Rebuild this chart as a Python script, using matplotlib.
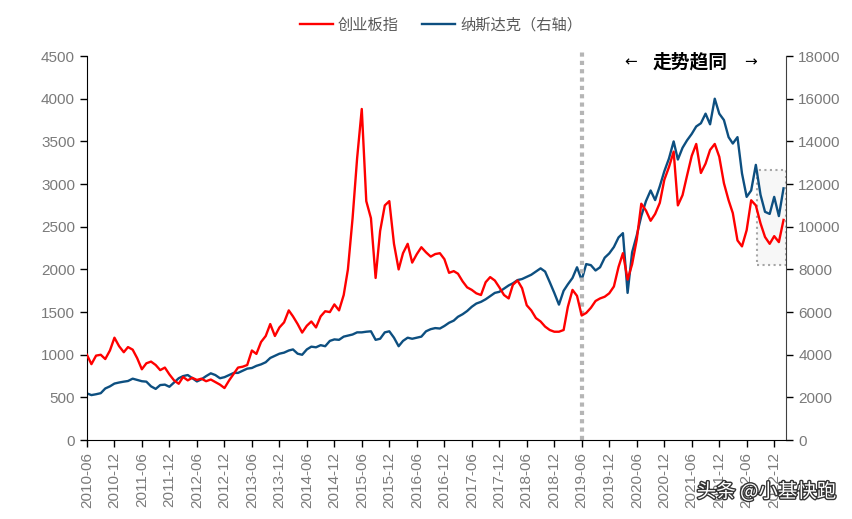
import numpy as np
import pandas as pd
import matplotlib
matplotlib.use("Agg")
import matplotlib.pyplot as plt
import matplotlib.dates as mdates
import matplotlib.patheffects as pe
from matplotlib.patches import Rectangle

plt.rcParams['font.family'] = ['Liberation Sans', 'Noto Sans CJK SC', 'DejaVu Sans']

# monthly readings, 2010-06 .. 2023-02
start_month = "2010-06-01"

chinext = [
    1000, 890, 990, 1000, 950, 1050, 1200,                       # 2010
    1100, 1030, 1090, 1060, 960, 830, 900, 920, 880, 820, 850, 770,  # 2011
    700, 660, 740, 700, 730, 705, 720, 690, 710, 680, 650, 610,   # 2012
    700, 780, 850, 860, 880, 1050, 1010, 1150, 1220, 1360, 1220, 1320,  # 2013
    1380, 1520, 1450, 1360, 1260, 1340, 1390, 1320, 1450, 1510, 1500, 1590,  # 2014
    1520, 1700, 2000, 2600, 3300, 3880, 2800, 2600, 1900, 2450, 2750, 2800,  # 2015
    2300, 2000, 2190, 2300, 2080, 2180, 2260, 2200, 2150, 2180, 2190, 2120,  # 2016
    1960, 1980, 1950, 1860, 1790, 1760, 1720, 1700, 1850, 1910, 1870, 1790,  # 2017
    1700, 1660, 1820, 1870, 1780, 1580, 1520, 1430, 1390, 1330, 1290, 1270,  # 2018
    1270, 1290, 1560, 1760, 1690, 1460, 1490, 1550, 1630, 1660, 1680, 1720,  # 2019
    1800, 2030, 2190, 1880, 2060, 2350, 2770, 2690, 2570, 2650, 2780, 3050,  # 2020
    3200, 3380, 2750, 2870, 3100, 3330, 3470, 3130, 3240, 3400, 3470, 3320,  # 2021
    3010, 2810, 2660, 2340, 2270, 2460, 2810, 2750, 2540, 2380, 2300, 2390,  # 2022
    2320, 2580,                                                    # 2023
]

nasdaq = [
    2190, 2110, 2150, 2200, 2420, 2520, 2650,
    2700, 2740, 2770, 2880, 2820, 2760, 2740, 2520, 2400, 2580, 2600, 2500,
    2700, 2900, 3000, 3050, 2900, 2750, 2850, 3000, 3130, 3050, 2900, 2950,
    3050, 3150, 3150, 3250, 3350, 3380, 3480, 3550, 3650, 3850, 3950, 4050,
    4100, 4200, 4250, 4050, 4000, 4250, 4380, 4350, 4450, 4400, 4650, 4720,
    4700, 4850, 4900, 4950, 5050, 5050, 5080, 5100, 4700, 4750, 5050, 5100,
    4800, 4400, 4650, 4800, 4750, 4800, 4850, 5100, 5200, 5250, 5230, 5350,
    5500, 5600, 5780, 5900, 6050, 6250, 6400, 6480, 6600, 6750, 6900, 6950,
    7100, 7250, 7350, 7500, 7550, 7650, 7750, 7900, 8050, 7900, 7400, 6900,
    6350, 7000, 7300, 7600, 8100, 7500, 8250, 8200, 7950, 8100, 8550, 8750,
    9050, 9500, 9700, 6900, 8800, 9600, 10500, 11200, 11700, 11250, 11900, 12600,
    13200, 14000, 13150, 13700, 14050, 14350, 14700, 14850, 15300, 14800, 16000, 15300,
    15000, 14200, 13900, 14200, 12500, 11400, 11700, 12900, 11500, 10700, 10600, 11400,
    10500, 11800,
]

dates = pd.date_range(start_month, periods=len(chinext), freq="MS")

# annotation settings
split_date = "2019-06-01"
box_x = ("2022-08-10", "2023-02-15")
box_y = (8200, 12650)

red = "#ff0000"
blue = "#0d4f80"
gray = "#7a7a7a"

fig = plt.figure(figsize=(8.52, 5.19), dpi=100)
ax = fig.add_axes([0.102, 0.152, 0.821, 0.740])
ax2 = ax.twinx()

# box behind the lines
x0 = mdates.date2num(pd.Timestamp(box_x[0]))
x1 = mdates.date2num(pd.Timestamp(box_x[1]))
ax2.add_patch(Rectangle((x0, box_y[0]), x1 - x0, box_y[1] - box_y[0],
                        facecolor="#f7f7f7", edgecolor="#a6a6a6",
                        linestyle=":", linewidth=1.5, zorder=0))

l1, = ax.plot(dates, chinext, color=red, lw=1.7, label="创业板指", zorder=3)
l2, = ax2.plot(dates, nasdaq, color=blue, lw=1.7, label="纳斯达克（右轴）", zorder=3)
ax.set_zorder(ax2.get_zorder() + 1)
ax.patch.set_visible(False)

ax.axvline(pd.Timestamp(split_date), ymin=0, ymax=1.015, color="#b5b5b5",
           lw=3, linestyle=(0, (1, 1)), clip_on=False, zorder=1)

ax.set_ylim(0, 4500)
ax.set_yticks(np.arange(0, 4501, 500))
ax2.set_ylim(0, 18000)
ax2.set_yticks(np.arange(0, 18001, 2000))

ax.set_xlim(pd.Timestamp(start_month), pd.Timestamp("2023-02-20"))
ticks = pd.date_range(start_month, "2022-12-01", freq="6MS")
ax.set_xticks(ticks)
ax.set_xticklabels([t.strftime("%Y-%m") for t in ticks], rotation=90)

for a in (ax, ax2):
    a.spines["top"].set_visible(False)
    a.tick_params(labelsize=11, labelcolor=gray, length=5, width=1, direction="out")
ax.spines["right"].set_visible(False)
ax2.spines["left"].set_visible(False)
ax2.spines["bottom"].set_visible(False)
ax2.spines["right"].set_color("#404040")

ax.legend([l1, l2], ["创业板指", "纳斯达克（右轴）"], loc="upper center",
          bbox_to_anchor=(0.506, 1.135), ncol=2, frameon=False, fontsize=11,
          labelcolor="#595959", handlelength=2.2, columnspacing=1.5,
          handletextpad=0.3)

ax.text(0.777, 0.984, "←", transform=ax.transAxes, ha="center", va="center",
        fontsize=11, family="DejaVu Sans")
ax.text(0.862, 0.984, "走势趋同", transform=ax.transAxes, ha="center", va="center",
        fontsize=13.5, fontweight="bold", family=["Noto Sans CJK SC"])
ax.text(0.948, 0.984, "→", transform=ax.transAxes, ha="center", va="center",
        fontsize=11, family="DejaVu Sans")

fig.text(0.982, 0.052, "头条 @小基快跑", ha="right", va="center", fontsize=14,
         color="white", family=["Noto Sans CJK SC"],
         path_effects=[pe.withStroke(linewidth=2, foreground="#333333")])

fig.savefig("out.png", dpi=100)
